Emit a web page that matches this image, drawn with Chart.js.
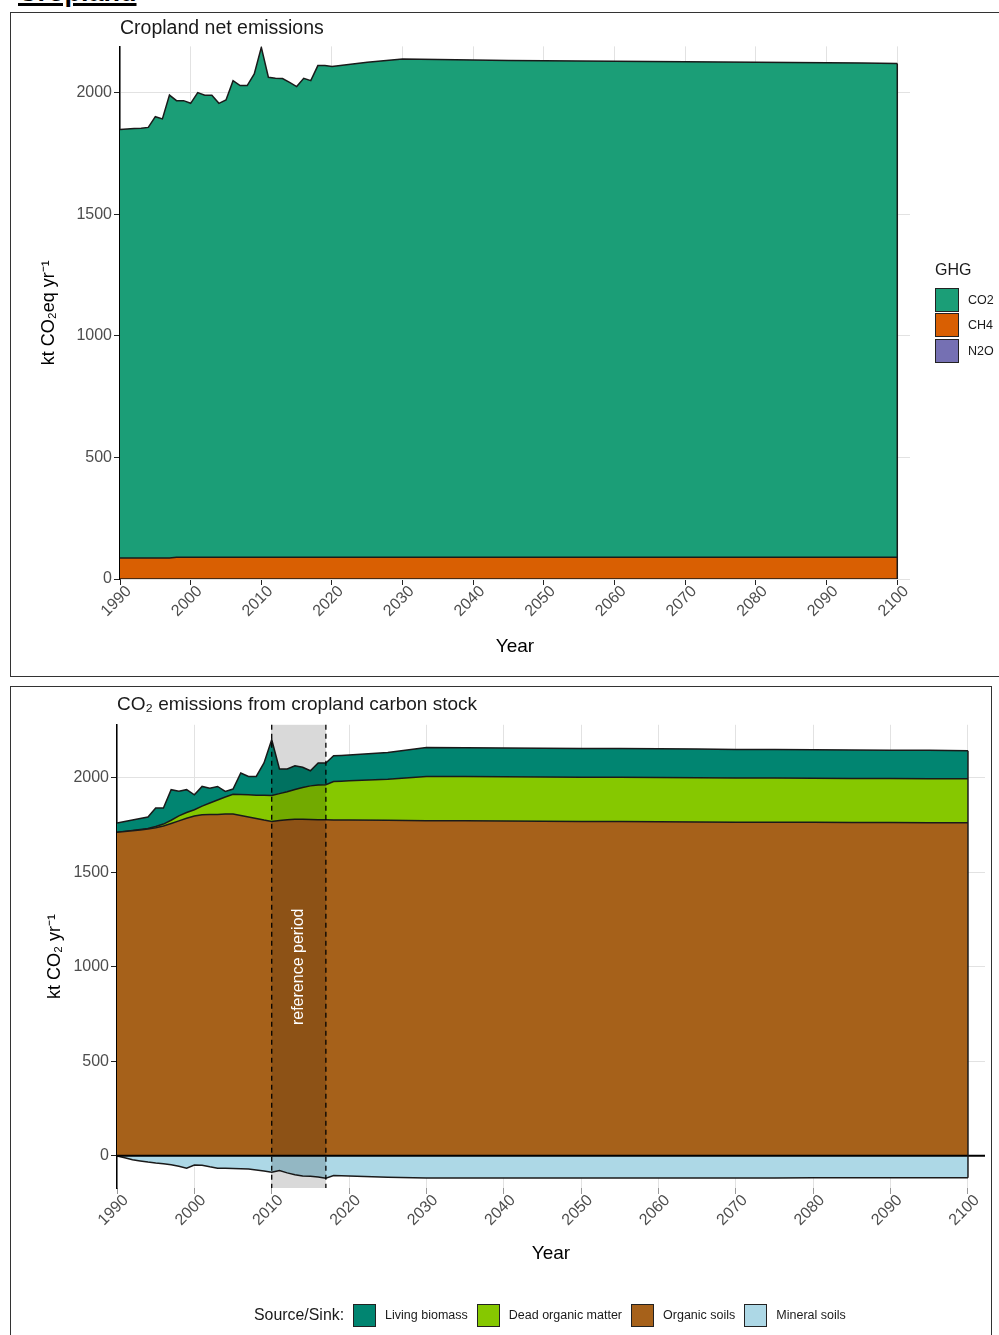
<!DOCTYPE html>
<html lang="en">
  <head>
    <meta charset="UTF-8" />
    <title>Cropland</title>
    <style>
      body {
        margin: 0;
        width: 999px;
        height: 1335px;
        background: #fff;
        position: relative;
        overflow: hidden;
        font-family: "Liberation Sans", Arial, sans-serif;
      }
      #hdr {
        position: absolute;
        left: 18px;
        top: -21px;
        font-size: 27px;
        line-height: 27px;
        font-weight: bold;
        text-decoration: underline;
        text-decoration-thickness: 3px;
        text-underline-offset: 2px;
      }
      .panel {
        position: absolute;
        border: 1px solid #333;
      }
      #p1 {
        left: 10px;
        top: 12px;
        width: 990px;
        height: 663px;
      }
      #p2 {
        left: 10px;
        top: 686px;
        width: 980px;
        height: 660px;
      }
      canvas {
        position: absolute;
        left: 0;
        top: 0;
      }
      /* legends */
      #leg1 {
        position: absolute;
        left: 935px;
        top: 261px;
      }
      #leg1 .ttl {
        font-size: 16px;
        height: 26px;
        color: #1a1a1a;
      }
      .row {
        display: flex;
        align-items: center;
        height: 25.5px;
      }
      .box {
        box-sizing: border-box;
        border: 1.5px solid #222;
      }
      #leg1 .box {
        width: 24px;
        height: 24px;
      }
      #leg1 .lab {
        margin-left: 9px;
        font-size: 12.5px;
        color: #1a1a1a;
      }
      #leg2 {
        position: absolute;
        left: 254px;
        top: 1303px;
        height: 24px;
        display: flex;
        align-items: center;
      }
      #leg2 .ttl {
        font-size: 15.9px;
        color: #1a1a1a;
      }
      #leg2 .box {
        width: 23px;
        height: 23px;
        margin-left: 9px;
      }
      #leg2 .lab {
        margin-left: 9px;
        font-size: 12.5px;
        color: #1a1a1a;
      }
    </style>
  </head>
  <body>
    <div id="hdr">Cropland</div>
    <div class="panel" id="p1">
      <canvas id="c1" width="987" height="663"></canvas>
    </div>
    <div class="panel" id="p2">
      <canvas id="c2" width="980" height="648"></canvas>
    </div>
    <div id="leg1"></div>
    <div id="leg2"></div>

    <script src="https://cdn.jsdelivr.net/npm/chart.js"></script>
    <script>
      // ---- data ----
      const years = [
        1990, 1991, 1992, 1993, 1994, 1995, 1996, 1997, 1998, 1999,
        2000, 2001, 2002, 2003, 2004, 2005, 2006, 2007, 2008, 2009,
        2010, 2011, 2012, 2013, 2014, 2015, 2016, 2017, 2018, 2019,
        2020, 2025, 2030, 2035, 2040, 2045, 2050, 2055, 2060, 2065,
        2070, 2075, 2080, 2085, 2090, 2095, 2100,
      ];

      // top chart: net emissions by gas (kt CO2eq / yr)
      const ghgLabels = ["CO2", "CH4", "N2O"];
      const ghgColors = ["#1b9e77", "#d95f02", "#7570b3"];
      const co2 = [
        1762, 1764, 1766, 1767, 1771, 1815, 1806, 1904, 1878, 1878,
        1867, 1911, 1900, 1900, 1867, 1881, 1960, 1940, 1940, 1988,
        2097, 1974, 1970, 1969, 1953, 1936, 1970, 1960, 2022, 2022,
        2018, 2036, 2049, 2047, 2045, 2043, 2042, 2041, 2040, 2039,
        2038, 2037, 2036, 2035, 2034, 2033, 2031,
      ];
      const ch4 = [
        86, 86, 86, 86, 86, 86, 86, 86, 89, 89,
        89, 89, 89, 89, 89, 89, 89, 89, 89, 89,
        89, 89, 89, 89, 89, 89, 89, 89, 89, 89,
        89, 89, 89, 89, 89, 89, 89, 89, 89, 89,
        89, 89, 89, 89, 89, 89, 89,
      ];
      const n2o = [
        0, 0, 0, 0, 0, 0, 0, 0, 0, 0,
        0, 0, 0, 0, 0, 0, 0, 0, 0, 0,
        0, 0, 0, 0, 0, 0, 0, 0, 0, 0,
        0, 0, 0, 0, 0, 0, 0, 0, 0, 0,
        0, 0, 0, 0, 0, 0, 0,
      ];

      // bottom chart: CO2 by carbon pool (kt CO2 / yr)
      const poolLabels = ["Living biomass", "Dead organic matter", "Organic soils", "Mineral soils"];
      const poolColors = ["#018571", "#86c800", "#a6611a", "#add8e6"];
      const livingBiomass = [
        49, 52, 55, 58, 61, 98, 85, 162, 130, 121,
        79, 104, 79, 72, 30, 28, 114, 97, 99, 171,
        295, 130, 120, 125, 107, 80, 116, 115, 136, 136,
        136, 142, 153, 152, 152, 152, 152, 152, 152, 152,
        151, 151, 151, 151, 150, 150, 148,
      ];
      const deadOrganicMatter = [
        0, 1, 2, 2, 2, 7, 10, 17, 26, 30,
        33, 46, 61, 76, 90, 104, 111, 118, 124, 131,
        137, 142, 148, 157, 168, 178, 184, 185, 203, 205,
        208, 217, 234, 234, 234, 234, 234, 234, 234, 234,
        234, 234, 233, 233, 233, 233, 233,
      ];
      const organicSoils = [
        1711, 1715, 1719, 1724, 1729, 1735, 1745, 1758, 1772, 1786,
        1798, 1804, 1805, 1806, 1808, 1808, 1800, 1792, 1784, 1776,
        1769, 1774, 1778, 1781, 1780, 1779, 1778, 1778, 1777, 1777,
        1776, 1775, 1773, 1772, 1771, 1770, 1769, 1768, 1767, 1766,
        1765, 1764, 1764, 1763, 1763, 1762, 1762,
      ];
      const mineralSoils = [
        0, -10, -21, -27, -33, -38, -42, -47, -55, -65,
        -48, -50, -58, -65, -66, -67, -68, -70, -75, -80,
        -86, -78, -90, -100, -106, -108, -112, -118, -104, -105,
        -107, -113, -117, -117, -117, -117, -117, -117, -117, -117,
        -117, -117, -116, -116, -116, -116, -116,
      ];

      const xTicks = [1990, 2000, 2010, 2020, 2030, 2040, 2050, 2060, 2070, 2080, 2090, 2100];
      const yTicks = [0, 500, 1000, 1500, 2000];
      const refPeriod = [2010, 2017];

      // ---- helpers ----
      const tickGrey = "#4d4d4d";
      const gridGrey = "#e2e2e2";
      const lineCol = "#1a1a1a";
      Chart.defaults.font.family = "'Liberation Sans', Arial, sans-serif";

      const pts = (arr) => years.map((y, i) => ({ x: y, y: arr[i] }));
      const setTicks = (list) => (s) => {
        s.ticks = list.map((v) => ({ value: v }));
      };

      // vertical outline at the last year (ggplot draws area polygons closed)
      const edgeLine = {
        id: "edgeLine",
        afterDatasetsDraw(chart) {
          const { ctx, scales } = chart;
          let ys = [scales.y.getPixelForValue(0)];
          let x = 0;
          chart.data.datasets.forEach((ds, i) => {
            const pt = chart.getDatasetMeta(i).data[ds.data.length - 1];
            ys.push(pt.y);
            x = pt.x;
          });
          ctx.save();
          ctx.strokeStyle = lineCol;
          ctx.lineWidth = 1.5;
          ctx.beginPath();
          ctx.moveTo(x, Math.min(...ys));
          ctx.lineTo(x, Math.max(...ys));
          ctx.stroke();
          ctx.restore();
        },
      };

      // reference period band, dashed limits, zero line
      const refBand = {
        id: "refBand",
        afterDatasetsDraw(chart) {
          const { ctx, chartArea, scales } = chart;
          const x0 = scales.x.getPixelForValue(refPeriod[0]);
          const x1 = scales.x.getPixelForValue(refPeriod[1]);
          const y0 = scales.y.getPixelForValue(0);
          ctx.save();
          ctx.fillStyle = "rgba(0,0,0,0.15)";
          ctx.fillRect(x0, chartArea.top, x1 - x0, chartArea.bottom - chartArea.top);

          ctx.strokeStyle = "#000";
          ctx.lineWidth = 2;
          ctx.beginPath();
          ctx.moveTo(chartArea.left, y0);
          ctx.lineTo(chartArea.right, y0);
          ctx.stroke();

          ctx.lineWidth = 1.3;
          ctx.setLineDash([5, 4]);
          [x0, x1].forEach((x) => {
            ctx.beginPath();
            ctx.moveTo(x, chartArea.top);
            ctx.lineTo(x, chartArea.bottom);
            ctx.stroke();
          });
          ctx.setLineDash([]);

          ctx.translate((x0 + x1) / 2, scales.y.getPixelForValue(1000));
          ctx.rotate(-Math.PI / 2);
          ctx.fillStyle = "#fff";
          ctx.font = "16px 'Liberation Sans', Arial, sans-serif";
          ctx.textAlign = "center";
          ctx.textBaseline = "middle";
          ctx.fillText("reference period", 0, 0);
          ctx.restore();
        },
      };

      const baseLine = {
        borderColor: lineCol,
        borderWidth: 1.5,
        pointRadius: 0,
        tension: 0,
      };

      const xTickOpts = {
        autoSkip: false,
        minRotation: 45,
        maxRotation: 45,
        color: tickGrey,
        font: { size: 16 },
        padding: -3,
        labelOffset: 9,
        callback: (v) => String(v),
      };

      // ---- top chart ----
      new Chart(document.getElementById("c1"), {
        type: "line",
        data: {
          datasets: [
            { ...baseLine, label: ghgLabels[2], data: pts(n2o), backgroundColor: ghgColors[2], fill: "origin" },
            { ...baseLine, label: ghgLabels[1], data: pts(ch4), backgroundColor: ghgColors[1], fill: "-1" },
            { ...baseLine, label: ghgLabels[0], data: pts(co2), backgroundColor: ghgColors[0], fill: "-1" },
          ],
        },
        options: {
          responsive: false,
          animation: false,
          layout: { padding: { left: 0, right: 88, top: 0, bottom: 0 } },
          plugins: {
            legend: { display: false },
            tooltip: { enabled: false },
            title: {
              display: true,
              text: "Cropland net emissions",
              align: "start",
              fullSize: false,
              color: lineCol,
              font: { size: 19.5, weight: "normal" },
              padding: { top: 4, bottom: 6 },
            },
          },
          scales: {
            x: {
              type: "linear",
              min: 1990,
              max: 2101.8,
              afterBuildTicks: setTicks(xTicks),
              afterFit: (s) => {
                s.height = 97;
              },
              ticks: xTickOpts,
              grid: { color: gridGrey, tickColor: "#222", tickLength: 6 },
              border: { display: false },
              title: {
                display: true,
                text: "Year",
                color: "#000",
                font: { size: 19 },
                padding: { top: 0, bottom: 18 },
              },
            },
            y: {
              stacked: true,
              min: 0,
              max: 2190,
              afterBuildTicks: setTicks(yTicks),
              afterFit: (s) => {
                s.width = 109;
              },
              ticks: { color: tickGrey, font: { size: 16 }, padding: 2, callback: (v) => String(v) },
              grid: { color: gridGrey, tickColor: "#222", tickLength: 6 },
              border: { display: true, color: "#000", width: 1.5 },
              title: {
                display: true,
                text: "kt CO₂eq yr⁻¹",
                color: "#000",
                font: { size: 18 },
                padding: { top: 27, bottom: 0 },
              },
            },
          },
        },
        plugins: [edgeLine],
      });

      // ---- bottom chart ----
      new Chart(document.getElementById("c2"), {
        type: "line",
        data: {
          datasets: [
            { ...baseLine, label: poolLabels[3], data: pts(mineralSoils), backgroundColor: poolColors[3], fill: "origin" },
            { ...baseLine, label: poolLabels[2], data: pts(organicSoils), backgroundColor: poolColors[2], fill: "origin" },
            { ...baseLine, label: poolLabels[1], data: pts(deadOrganicMatter), backgroundColor: poolColors[1], fill: "-1" },
            { ...baseLine, label: poolLabels[0], data: pts(livingBiomass), backgroundColor: poolColors[0], fill: "-1" },
          ],
        },
        options: {
          responsive: false,
          animation: false,
          layout: { padding: { left: 0, right: 6, top: 0, bottom: 67 } },
          plugins: {
            legend: { display: false },
            tooltip: { enabled: false },
            title: {
              display: true,
              text: "CO₂ emissions from cropland carbon stock",
              align: "start",
              fullSize: false,
              color: lineCol,
              font: { size: 19, weight: "normal" },
              padding: { top: 6, bottom: 9 },
            },
          },
          scales: {
            x: {
              type: "linear",
              min: 1990,
              max: 2102.2,
              afterBuildTicks: setTicks(xTicks),
              afterFit: (s) => {
                s.height = 80;
              },
              ticks: xTickOpts,
              grid: { color: gridGrey, tickColor: "#999", tickLength: 6 },
              border: { display: false },
              title: {
                display: true,
                text: "Year",
                color: "#000",
                font: { size: 19 },
                padding: { top: 0, bottom: 3 },
              },
            },
            y: {
              stacked: true,
              min: -170,
              max: 2280,
              afterBuildTicks: setTicks(yTicks),
              afterFit: (s) => {
                s.width = 106;
              },
              ticks: { color: tickGrey, font: { size: 16 }, padding: 2, callback: (v) => String(v) },
              grid: { color: gridGrey, tickColor: "#222", tickLength: 6 },
              border: { display: true, color: "#000", width: 1.5 },
              title: {
                display: true,
                text: "kt CO₂ yr⁻¹",
                color: "#000",
                font: { size: 18 },
                padding: { top: 33, bottom: 0 },
              },
            },
          },
        },
        plugins: [refBand, edgeLine],
      });

      // ---- legends ----
      function legendRow(color, text) {
        return `<div class="row"><div class="box" style="background:${color}"></div><span class="lab">${text}</span></div>`;
      }
      document.getElementById("leg1").innerHTML =
        '<div class="ttl">GHG</div>' + ghgLabels.map((l, i) => legendRow(ghgColors[i], l)).join("");
      document.getElementById("leg2").innerHTML =
        '<span class="ttl">Source/Sink:</span>' +
        poolLabels
          .map((l, i) => `<div class="box" style="background:${poolColors[i]}"></div><span class="lab">${l}</span>`)
          .join("");
    </script>
  </body>
</html>
